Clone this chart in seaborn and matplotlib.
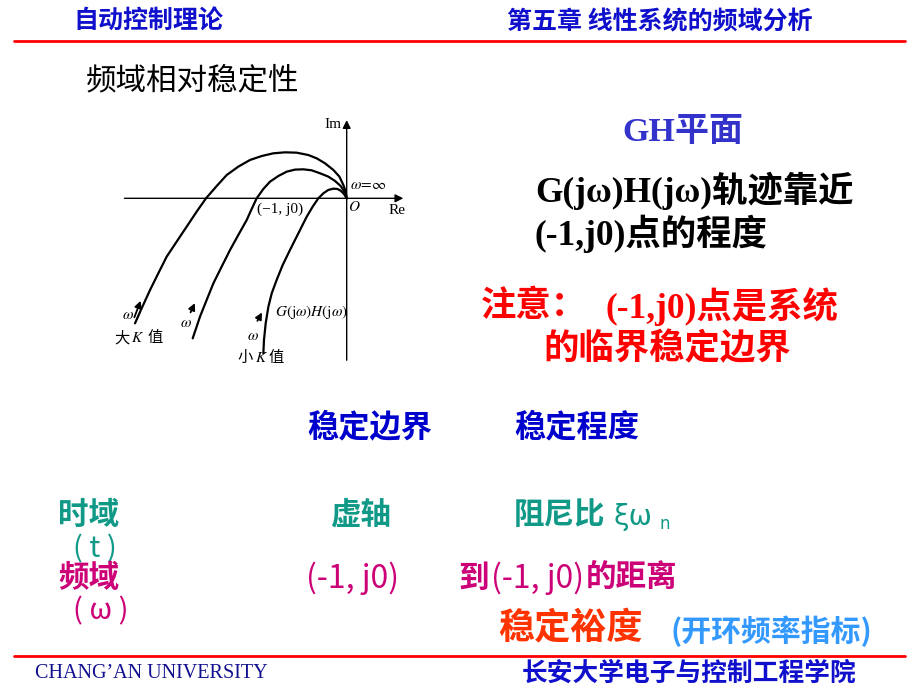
import numpy as np
import pandas as pd
import matplotlib
matplotlib.use("Agg")
import matplotlib.pyplot as plt
import seaborn as sns

# Nyquist loci, (-1, j0) at Re = -1
big_k_re = [-2.352, -2.278, -2.185, -2.093, -2.0, -1.889, -1.778, -1.667, -1.563, -1.444, -1.333, -1.204, -1.074,
            -0.944, -0.815, -0.685, -0.556, -0.426, -0.333, -0.241, -0.148, -0.081, -0.037, -0.011, 0.0]
big_k_im = [-1.389, -1.222, -1.019, -0.833, -0.648, -0.481, -0.315, -0.148, 0.0, 0.137, 0.259, 0.352, 0.426,
            0.470, 0.5, 0.511, 0.507, 0.481, 0.444, 0.389, 0.315, 0.241, 0.148, 0.074, 0.0]
mid_k_re = [-1.711, -1.667, -1.630, -1.556, -1.481, -1.389, -1.296, -1.204, -1.111, -1.056, -1.0, -0.926,
            -0.852, -0.759, -0.667, -0.574, -0.481, -0.389, -0.296, -0.204, -0.130, -0.067, -0.026, 0.0]
mid_k_im = [-1.556, -1.426, -1.315, -1.130, -0.944, -0.759, -0.574, -0.407, -0.241, -0.119, 0.0, 0.104,
            0.185, 0.248, 0.296, 0.319, 0.322, 0.311, 0.278, 0.241, 0.193, 0.137, 0.074, 0.0]
small_k_re = [-0.926, -0.919, -0.9, -0.870, -0.833, -0.778, -0.711, -0.630, -0.537, -0.444, -0.378, -0.315,
              -0.259, -0.204, -0.148, -0.104, -0.067, -0.030, 0.0]
small_k_im = [-1.722, -1.574, -1.389, -1.204, -1.056, -0.907, -0.741, -0.574, -0.389, -0.204, -0.093, 0.0,
              0.056, 0.093, 0.107, 0.104, 0.085, 0.048, 0.0]
curve_names = ["大K值", "中K值", "小K值"]

header_left = "自动控制理论"
header_right = "第五章 线性系统的频域分析"
footer_left = "CHANG’AN UNIVERSITY"
footer_right = "长安大学电子与控制工程学院"

sns.set_theme(style="white")
plt.rcParams["font.family"] = ["Noto Sans CJK SC", "DejaVu Sans"]
plt.rcParams["mathtext.fontset"] = "stix"
SERIF = ["Liberation Serif", "Noto Sans CJK SC"]
CJK = ["Noto Sans CJK SC", "DejaVu Sans"]

fig = plt.figure(figsize=(9.2, 6.9), dpi=100)
fig.patch.set_facecolor("white")

# slide canvas in pixel coordinates
bg = fig.add_axes([0, 0, 1, 1])
bg.set_xlim(0, 920)
bg.set_ylim(690, 0)
bg.axis("off")

# header / footer
bg.plot([14, 905], [41, 41], color="#ff0000", lw=2)
bg.plot([14, 905], [656, 656], color="#ff0000", lw=2)
bg.text(73, 22, header_left, color="#1010cc", fontsize=18, weight="bold", family=CJK, va="center")
bg.text(507, 22, header_right, color="#1010cc", fontsize=18, weight="bold", family=CJK, va="center")
bg.text(35, 673, footer_left, color="#101090", fontsize=14.5, family=["Liberation Serif"], va="center")
bg.text(522, 673, footer_right, color="#1010cc", fontsize=18.5, weight="bold", family=CJK, va="center")

bg.text(86, 81, "频域相对稳定性", color="black", fontsize=22, family=CJK, va="center")

# right column notes
bg.text(622, 133, "GH平面", color="#3333cc", fontsize=24.5, weight="bold", family=SERIF, va="center")
bg.text(535, 191, "G(jω)H(jω)轨迹靠近", color="black", fontsize=25.5, weight="bold", family=SERIF, va="center")
bg.text(535, 234, "(-1,j0)点的程度", color="black", fontsize=25.5, weight="bold", family=SERIF, va="center")
bg.text(481, 307, "注意：", color="#ff0000", fontsize=25.5, weight="bold", family=SERIF, va="center")
bg.text(606, 307, "(-1,j0)点是系统", color="#ff0000", fontsize=25.5, weight="bold", family=SERIF, va="center")
bg.text(543, 350, "的临界稳定边界", color="#ff0000", fontsize=25.5, weight="bold", family=SERIF, va="center")

# comparison table
blue = "#0000cc"
teal = "#119988"
mag = "#cc0077"
bg.text(307, 427, "稳定边界", color=blue, fontsize=22.5, weight="bold", family=CJK, va="center")
bg.text(514, 427, "稳定程度", color=blue, fontsize=22.5, weight="bold", family=CJK, va="center")

bg.text(58, 515, "时域", color=teal, fontsize=22, weight="bold", family=CJK, va="center")
bg.text(330, 515, "虚轴", color=teal, fontsize=22, weight="bold", family=CJK, va="center")
bg.text(514, 515, "阻尼比", color=teal, fontsize=22, weight="bold", family=CJK, va="center")
bg.text(614, 517, "ξω", color=teal, fontsize=20, family=["DejaVu Sans"], va="center")
bg.text(660, 524, "n", color=teal, fontsize=12, family=["DejaVu Sans"], va="center")
bg.text(73, 549, "( t )", color=teal, fontsize=21, family=CJK, va="center")

bg.text(58, 578, "频域", color=mag, fontsize=22, weight="bold", family=CJK, va="center")
bg.text(306, 578, "(-1, j0)", color=mag, fontsize=23, family=CJK, va="center")
bg.text(458, 578, "到", color=mag, fontsize=22, weight="bold", family=CJK, va="center")
bg.text(491, 578, "(-1, j0)", color=mag, fontsize=23, family=CJK, va="center")
bg.text(586, 578, "的距离", color=mag, fontsize=22, weight="bold", family=CJK, va="center")
bg.text(73, 611, "( ω )", color=mag, fontsize=21, family=CJK, va="center")

bg.text(498, 628, "稳定裕度", color="#ff3300", fontsize=26, weight="bold", family=CJK, va="center")
bg.text(671, 631, "(开环频率指标)", color="#3399ff", fontsize=21.5, weight="bold", family=CJK, va="center")

# Nyquist diagram inset, 90 px per unit on both axes
ax = fig.add_axes([0.1225, 0.4648, 0.3277, 0.3717])
ax.set_xlim(-2.6, 0.75)
ax.set_ylim(-1.9, 0.95)
ax.axis("off")

df = pd.concat([
    pd.DataFrame({"Re": big_k_re, "Im": big_k_im, "K": curve_names[0]}),
    pd.DataFrame({"Re": mid_k_re, "Im": mid_k_im, "K": curve_names[1]}),
    pd.DataFrame({"Re": small_k_re, "Im": small_k_im, "K": curve_names[2]}),
])
sns.lineplot(data=df, x="Re", y="Im", hue="K", palette=["black"] * 3,
             sort=False, estimator=None, legend=False, lw=1.6, ax=ax)

arrow = dict(arrowstyle="-|>", color="black", lw=1.0, mutation_scale=12)
ax.annotate("", xy=(0.66, 0), xytext=(-2.5, 0), arrowprops=arrow)
ax.annotate("", xy=(0, 0.9), xytext=(0, -1.83), arrowprops=arrow)
for x0, y0, x1, y1 in [(-2.37, -1.35, -2.278, -1.11),
                       (-1.748, -1.296, -1.674, -1.137),
                       (-1.007, -1.389, -0.926, -1.241)]:
    ax.annotate("", xy=(x1, y1), xytext=(x0, y0),
                arrowprops=dict(arrowstyle="-|>", color="black", lw=1.3, mutation_scale=10))

lab = dict(fontsize=11, family=SERIF, color="black", va="center")
ax.text(-2.43, -1.30, "$\\omega$", ha="center", **lab)
ax.text(-1.785, -1.39, "$\\omega$", ha="center", **lab)
ax.text(-1.037, -1.537, "$\\omega$", ha="center", **lab)
ax.text(-2.50, -1.556, "大", ha="center", **lab)
ax.text(-2.326, -1.556, "$K$", ha="center", **lab)
ax.text(-2.13, -1.556, "值", ha="center", **lab)
ax.text(-1.13, -1.778, "小", ha="center", **lab)
ax.text(-0.945, -1.778, "$K$", ha="center", **lab)
ax.text(-0.78, -1.778, "值", ha="center", **lab)
ax.text(-0.80, -1.259, "$G(\\mathrm{j}\\omega)H(\\mathrm{j}\\omega)$", ha="left", **lab)
ax.text(-1.0, -0.12, "(−1, j0)", ha="left", **lab)
ax.text(0.02, -0.095, "$O$", ha="left", **lab)
ax.text(0.46, -0.13, "Re", ha="left", **lab)
ax.text(-0.25, 0.815, "Im", ha="left", **lab)
ax.text(0.04, 0.137, "$\\omega\\!=\\!\\infty$", ha="left", **lab)

fig.savefig("out.png", dpi=100, facecolor="white")
